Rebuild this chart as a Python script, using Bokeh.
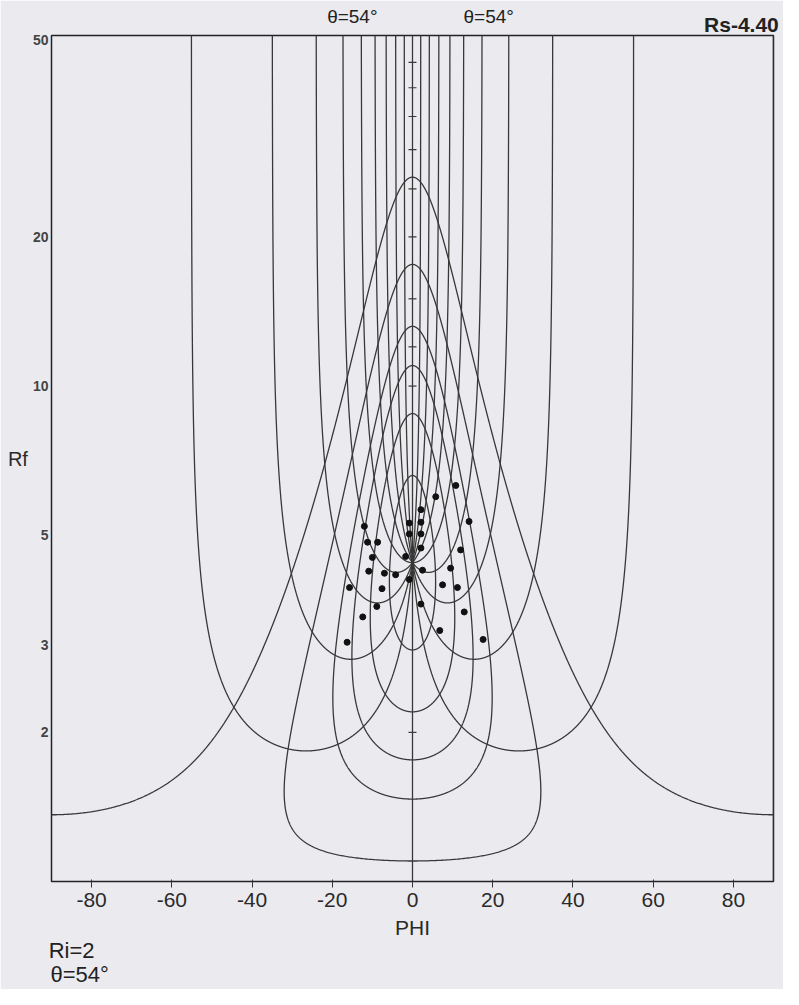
import numpy as np
from bokeh.plotting import figure
from bokeh.models import FixedTicker, Range1d, LinearAxis
from bokeh.embed import file_html
from bokeh.resources import INLINE

# ---------------- data ----------------
Rs = 4.40
ri_curves = [1.5, 2.0, 2.5, 3.0, 4.0, 6.0]
theta_curves = [0, 9, 18, 27, 36, 45, 54, 63, 72, 81, 90,
                -9, -18, -27, -36, -45, -54, -63, -72, -81]
center_ticks = [2, 10, 12, 15, 20, 25, 30, 35, 40, 45]

phi_pts = [10.8, 5.8, 2.1, -0.8, 2.1, -0.8, 2.1, 14.1, 2.1, -1.7, 12.0, 2.5,
           9.5, -0.8, 7.5, 11.2, 2.1, 12.9, 6.8, 17.6, -12.0, -11.2, -8.7,
           -10.0, -10.9, -7.0, -4.2, -15.7, -7.6, -8.9, -12.4, -16.3]
rf_pts = [6.30, 5.98, 5.63, 5.29, 5.31, 5.03, 5.03, 5.33, 4.71, 4.53, 4.67, 4.25,
          4.29, 4.07, 3.97, 3.92, 3.63, 3.50, 3.21, 3.08, 5.21, 4.84, 4.84,
          4.51, 4.23, 4.19, 4.16, 3.92, 3.90, 3.59, 3.42, 3.04]

x_ticks = [-80, -60, -40, -20, 0, 20, 40, 60, 80]
y_ticks = [2, 3, 5, 10, 20, 50]

# annotation texts and where (in PHI) they sit
theta_note = "θ=54°"
theta_note_at = [-15, 19]
rs_note = "Rs-4.40"
rs_note_at = 82
ri_note = "Ri=2"
ri_note_at = -85
theta_low_at = -83

FONT = "Liberation Sans"
LINE = "#383838"
BG = "#ebeaef"


def strain(ri, theta_deg):
    t = np.radians(theta_deg)
    c, s = np.cos(t), np.sin(t)
    bxx = Rs * (ri * c * c + s * s / ri)
    byy = (ri * s * s + c * c / ri) / Rs
    bxy = (ri - 1.0 / ri) * s * c
    tr = bxx + byy
    rf = tr / 2 + np.sqrt(np.maximum(tr * tr / 4 - 1, 0))
    phi = 0.5 * np.degrees(np.arctan2(2 * bxy, bxx - byy))
    return phi, rf


def broken(phi, rf):
    jumps = np.where(np.abs(np.diff(phi)) > 60)[0] + 1
    return np.insert(phi, jumps, np.nan), np.insert(rf, jumps, np.nan)


p = figure(width=783, height=989, x_range=Range1d(-90, 90), y_range=Range1d(1, 51),
           y_axis_type="log", output_backend="svg", toolbar_location=None,
           min_border_left=51, min_border_right=10, min_border_top=35,
           min_border_bottom=107)
p.background_fill_color = BG
p.border_fill_color = BG
p.outline_line_color = "#222222"
p.outline_line_width = 1.5
p.grid.visible = False

# theta curves
ri_param = np.geomspace(1.0, 400.0, 6000)
for th in theta_curves:
    ph, rf = strain(ri_param, th)
    ph, rf = broken(ph, rf)
    p.line(ph, rf, line_color=LINE, line_width=1.3)

# Ri curves
th_param = np.linspace(-90, 90, 7201)
for ri in ri_curves:
    ph, rf = strain(ri, th_param)
    ph, rf = broken(ph, rf)
    p.line(ph, rf, line_color=LINE, line_width=1.3)

# ticks on centre line
p.scatter([0] * len(center_ticks), center_ticks, marker="dash", size=8,
          line_color=LINE, line_width=1.2)

# data points
p.scatter(phi_pts, rf_pts, marker="circle", size=6, fill_color="#111111",
          line_color="#111111")

# main axes
xa = p.xaxis[0]
xa.ticker = FixedTicker(ticks=x_ticks)
xa.major_label_overrides = {t: str(t) for t in x_ticks}
xa.axis_line_color = None
xa.major_tick_out = 6
xa.major_tick_in = 2
xa.major_tick_line_color = "#333333"
xa.minor_tick_line_color = None
xa.major_label_standoff = 5
xa.major_label_text_font = FONT
xa.major_label_text_font_size = "21px"
xa.major_label_text_color = "#2a2a2a"
xa.axis_label = "PHI"
xa.axis_label_text_font = FONT
xa.axis_label_text_font_size = "21px"
xa.axis_label_text_font_style = "normal"
xa.axis_label_text_color = "#2a2a2a"
xa.axis_label_standoff = 6

ya = p.yaxis[0]
ya.ticker = FixedTicker(ticks=y_ticks)
ya.major_label_overrides = {t: str(t) for t in y_ticks}
ya.axis_line_color = None
ya.major_tick_out = 0
ya.major_tick_in = 0
ya.minor_tick_line_color = None
ya.major_label_standoff = 3
ya.major_label_text_font = FONT
ya.major_label_text_font_size = "14px"
ya.major_label_text_font_style = "bold"
ya.major_label_text_color = "#444444"
ya.axis_label = "Rf"
ya.axis_label_orientation = "horizontal"
ya.axis_label_standoff = 2
ya.axis_label_text_font = FONT
ya.axis_label_text_font_size = "20px"
ya.axis_label_text_font_style = "normal"
ya.axis_label_text_color = "#2a2a2a"


def text_axis(ticks, labels, size, standoff, style="normal"):
    ax = LinearAxis(ticker=FixedTicker(ticks=ticks),
                    major_label_overrides=dict(zip(ticks, labels)))
    ax.axis_line_color = None
    ax.major_tick_line_color = None
    ax.minor_tick_line_color = None
    ax.major_tick_out = 0
    ax.major_tick_in = 0
    ax.major_label_standoff = standoff
    ax.major_label_text_font = FONT
    ax.major_label_text_font_size = size
    ax.major_label_text_font_style = style
    ax.major_label_text_color = "#222222"
    return ax

# texts above the frame
p.add_layout(text_axis([rs_note_at], [rs_note], "21px", 0, "bold"), "above")
p.add_layout(text_axis(theta_note_at, [theta_note] * len(theta_note_at), "19px", -17), "above")
# texts below the frame
p.add_layout(text_axis([ri_note_at], [ri_note], "22px", -4), "below")
p.add_layout(text_axis([theta_low_at], [theta_note], "22px", -4), "below")

open("out.html", "w").write(file_html(p, INLINE))
